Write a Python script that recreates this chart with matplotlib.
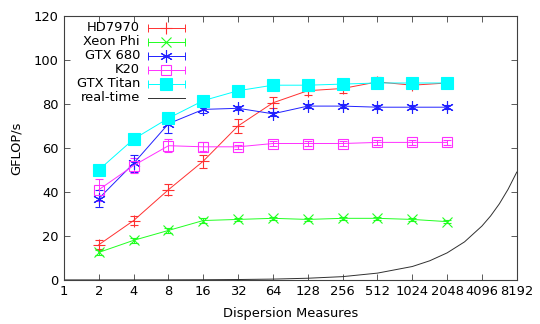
import matplotlib
matplotlib.use("Agg")
import matplotlib.pyplot as plt
from matplotlib.lines import Line2D
from matplotlib.ticker import FixedLocator, FixedFormatter, LogLocator, NullFormatter

dms = [2, 4, 8, 16, 32, 64, 128, 256, 512, 1024, 2048]

hd7970 = [16, 27, 41, 54, 70, 80.5, 86, 87, 90, 88.5, 89.5]
hd7970_err = [2, 2, 2.5, 3, 3, 2.5, 2, 2, 2, 1, 1]
xeon = [12.5, 18, 22.5, 27, 27.5, 28, 27.5, 28, 28, 27.5, 26.5]
xeon_err = [1, 1, 1, 1, 0.8, 0.8, 0.8, 0.8, 0.8, 0.8, 0.8]
gtx680 = [37, 53, 71, 77.5, 78, 75.5, 79, 79, 78.5, 78.5, 78.5]
gtx680_err = [4, 4, 4, 1.5, 1, 1, 1, 1, 1, 1, 1]
k20 = [41, 52, 61, 60.5, 60.5, 62, 62, 62, 62.5, 62.5, 62.5]
k20_err = [5, 3.5, 3, 2, 1, 1, 1, 1, 1, 1, 1]
titan = [50, 64, 73.5, 81.5, 86, 88.5, 88.5, 89, 89.5, 89.5, 89.5]
titan_err = [1, 1, 1, 1, 1, 1, 1, 1, 1, 1, 1]

rt_dms = [1, 2, 4, 8, 16, 32, 64, 128, 256, 512, 1024, 1448, 2048, 2896,
          4096, 4870, 5793, 6889, 8192]
rt_vals = [0.006, 0.012, 0.024, 0.048, 0.096, 0.19, 0.38, 0.77, 1.5, 3.1,
           6.1, 8.7, 12.3, 17.3, 24.5, 29.1, 34.6, 41.2, 49]

xticks = [1, 2, 4, 8, 16, 32, 64, 128, 256, 512, 1024, 2048, 4096, 8192]
yticks = [0, 20, 40, 60, 80, 100, 120]

series = [
    ("HD7970", hd7970, hd7970_err, "#ff3030", "+", 8, "none"),
    ("Xeon Phi", xeon, xeon_err, "#20ff20", "x", 7, "none"),
    ("GTX 680", gtx680, gtx680_err, "#2020ff", (6, 2, 0), 9, "none"),
    ("K20", k20, k20_err, "#ff30ff", "s", 7.5, "none"),
    ("GTX Titan", titan, titan_err, "#00ffff", "s", 8, "#00ffff"),
]

FS = 9.4
plt.rcParams['font.family'] = ['DejaVu Sans']
fig = plt.figure(figsize=(5.4, 3.24), dpi=100)
ax = fig.add_axes([0.1185, 0.136, 0.8385, 0.815])

tx = 0.168
lx0, lx1 = 0.185, 0.267
ly0, dy = 0.9545, 0.053

for i, (name, vals, err, col, mk, ms, mfc) in enumerate(series):
    ax.errorbar(dms, vals, yerr=err, color=col, lw=0.7, elinewidth=0.7,
                capsize=2.6, capthick=0.7, marker=mk, ms=ms, mfc=mfc,
                mec=col, mew=0.8)
    y = ly0 - i * dy
    ax.text(tx, y, name, transform=ax.transAxes, ha="right", va="center",
            fontsize=FS)
    ax.add_line(Line2D([lx0, lx1], [y, y], transform=ax.transAxes, color=col,
                       lw=0.7, marker="|", ms=6, mew=0.7, clip_on=False))
    ax.add_line(Line2D([(lx0 + lx1) / 2], [y], transform=ax.transAxes,
                       color=col, lw=0, marker=mk, ms=ms, mfc=mfc, mec=col,
                       mew=0.8, clip_on=False))

ax.plot(rt_dms, rt_vals, color="#303030", lw=0.7)
y = ly0 - len(series) * dy
ax.text(tx, y, "real-time", transform=ax.transAxes, ha="right", va="center",
        fontsize=FS)
ax.add_line(Line2D([lx0, lx1], [y, y], transform=ax.transAxes,
                   color="#303030", lw=0.7))

ax.set_xscale("log", base=2)
ax.set_xlim(1, 8192)
ax.set_ylim(0, 120)
ax.xaxis.set_major_locator(FixedLocator(xticks))
ax.xaxis.set_major_formatter(FixedFormatter([str(t) for t in xticks]))
ax.xaxis.set_minor_locator(LogLocator(base=2, subs=(1.25, 1.5, 1.75)))
ax.xaxis.set_minor_formatter(NullFormatter())
ax.set_yticks(yticks)
ax.tick_params(which="both", direction="in", top=True, right=True,
               labelsize=FS, color="#404040", width=0.6)
ax.tick_params(which="major", length=4, pad=4)
ax.tick_params(which="minor", length=2)
for s in ax.spines.values():
    s.set_color("#404040")
    s.set_linewidth(0.8)

ax.set_xlabel("Dispersion Measures", fontsize=FS, labelpad=6)
ax.set_ylabel("GFLOP/s", fontsize=FS, labelpad=8)

fig.savefig("out.png", dpi=100)
